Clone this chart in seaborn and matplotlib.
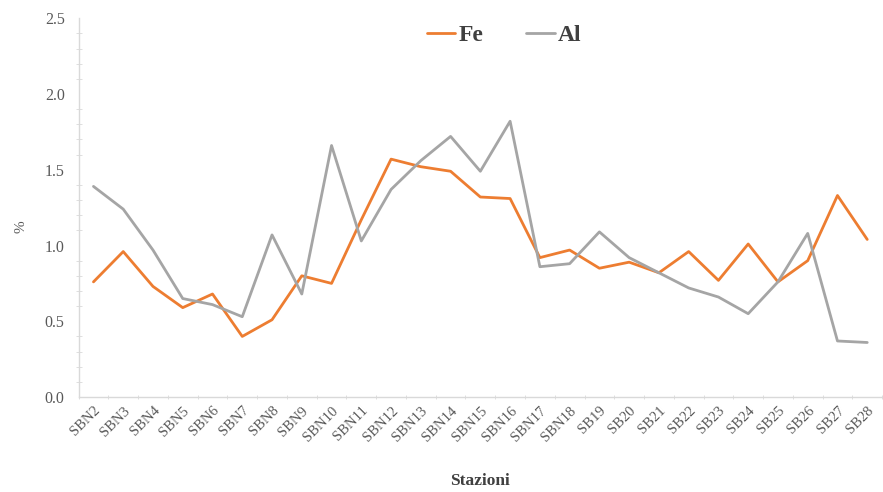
import matplotlib
matplotlib.use("Agg")
import matplotlib.pyplot as plt
from matplotlib.ticker import MultipleLocator
import seaborn as sns
import pandas as pd

# stations along the x axis
stations = ["SBN2", "SBN3", "SBN4", "SBN5", "SBN6", "SBN7", "SBN8", "SBN9",
            "SBN10", "SBN11", "SBN12", "SBN13", "SBN14", "SBN15", "SBN16",
            "SBN17", "SBN18", "SB19", "SB20", "SB21", "SB22", "SB23", "SB24",
            "SB25", "SB26", "SB27", "SB28"]

# percent values
fe = [0.76, 0.96, 0.73, 0.59, 0.68, 0.40, 0.51, 0.80, 0.75, 1.17, 1.57, 1.52,
      1.49, 1.32, 1.31, 0.92, 0.97, 0.85, 0.89, 0.82, 0.96, 0.77, 1.01, 0.76,
      0.90, 1.33, 1.04]
al = [1.39, 1.24, 0.97, 0.65, 0.61, 0.53, 1.07, 0.68, 1.66, 1.03, 1.37, 1.56,
      1.72, 1.49, 1.82, 0.86, 0.88, 1.09, 0.92, 0.82, 0.72, 0.66, 0.55, 0.76,
      1.08, 0.37, 0.36]

series_names = ["Fe", "Al"]
colors = {"Fe": "#ED7D31", "Al": "#A5A5A5"}

df = pd.DataFrame({
    "Stazioni": stations * 2,
    "value": fe + al,
    "element": ["Fe"] * len(stations) + ["Al"] * len(stations),
})

sns.set_style("white")
plt.rcParams["font.family"] = ["Liberation Serif", "DejaVu Serif"]

fig = plt.figure(figsize=(8.83, 4.92), dpi=100)
ax = fig.add_axes([0.089, 0.193, 0.91, 0.77])

sns.lineplot(data=df, x="Stazioni", y="value", hue="element",
             hue_order=series_names, palette=colors, linewidth=2.0,
             sort=False, ax=ax)

ax.set_xlim(-0.5, len(stations) - 0.5)
ax.set_ylim(0, 2.5)
ax.yaxis.set_minor_locator(MultipleLocator(0.1))
ax.set_yticks([0, 0.5, 1.0, 1.5, 2.0, 2.5])
ax.set_yticklabels(["0.0", "0.5", "1.0", "1.5", "2.0", "2.5"])
ax.xaxis.set_minor_locator(MultipleLocator(0.5))

grey = "#595959"
ax.tick_params(axis="y", which="major", labelsize=11.5, labelcolor=grey,
               color="#D9D9D9", length=4, direction="inout", pad=8)
ax.tick_params(axis="y", which="minor", color="#D9D9D9", length=4,
               direction="inout", left=True)
ax.tick_params(axis="x", which="major", labelsize=10.5, labelcolor=grey,
               color="#D9D9D9", length=4, direction="inout", pad=3)
ax.tick_params(axis="x", which="minor", color="#D9D9D9", length=3,
               direction="inout", bottom=True)
plt.setp(ax.get_xticklabels(), rotation=45, ha="right", rotation_mode="anchor")

for side in ["top", "right"]:
    ax.spines[side].set_visible(False)
for side in ["left", "bottom"]:
    ax.spines[side].set_color("#D9D9D9")
    ax.spines[side].set_linewidth(1.0)

ax.set_ylabel("%", fontsize=11, color=grey)
ax.yaxis.set_label_coords(-0.063, 0.45)
ax.set_xlabel("Stazioni", fontsize=12.5, fontweight="bold", color="#404040")
ax.xaxis.set_label_coords(0.5, -0.2)

leg = ax.legend(loc="upper center", bbox_to_anchor=(0.53, 1.04), ncol=2,
                frameon=False, handlelength=1.2, handletextpad=0.15,
                columnspacing=1.8,
                prop={"size": 17, "weight": "bold"})
for t in leg.get_texts():
    t.set_color("#404040")

fig.savefig("out.png", dpi=100)
